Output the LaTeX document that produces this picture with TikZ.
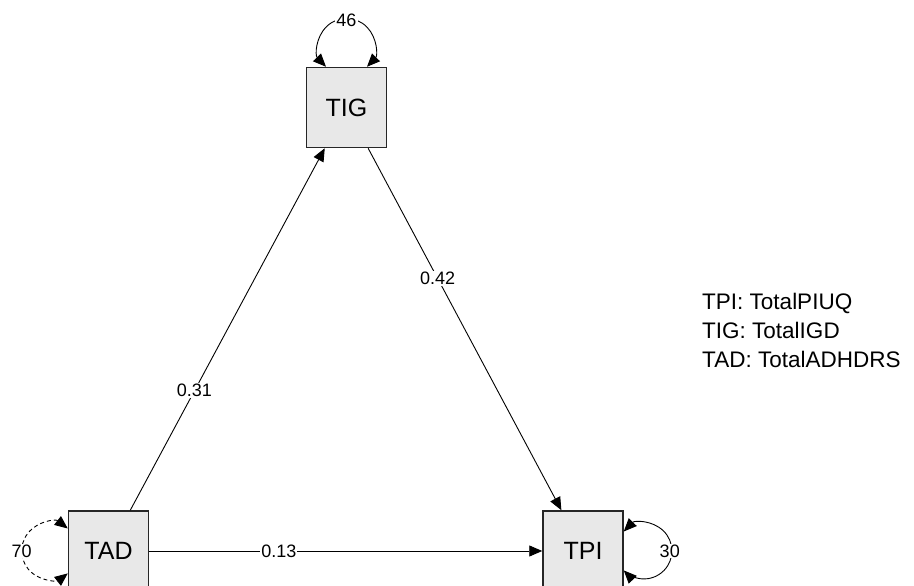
\documentclass[tikz,border=0pt]{standalone}
\usepackage{fontspec}
\setmainfont{Liberation Sans}
\usetikzlibrary{arrows.meta}

\begin{document}
\begin{tikzpicture}[x=1pt, y=1pt,
    obsbox/.style={rectangle, draw=black!85, line width=1.5pt, fill=gray!18, minimum size=80pt, inner sep=0pt, font=\fontsize{25}{30}\selectfont},
    regedge/.style={line width=0.9pt, -{Triangle[length=13pt,width=11pt]}},
    covloop/.style={line width=0.9pt, {Triangle[length=13pt,width=11pt]}-{Triangle[length=13pt,width=11pt]}},
    wlabel/.style={fill=white, inner sep=1pt, font=\fontsize{18}{20}\selectfont}]
    \useasboundingbox (0,0) rectangle (914,586);

    % observed variables
    \node[obsbox] (tig) at (346.5, 478.5) {TIG};
    \node[obsbox] (tad) at (108.5, 35) {TAD};
    \node[obsbox] (tpi) at (583, 35) {TPI};

    % paths
    \draw[regedge] (tad) -- node[wlabel, pos=0.33] (l31) {0.31} (tig);
    \draw[regedge] (tig) -- node[wlabel, pos=0.36] (l42) {0.42} (tpi);
    \draw[regedge] (tad) -- node[wlabel, pos=0.33] (l13) {0.13} (tpi);

    % variances
    \draw[covloop] ([xshift=-20.5pt]tig.north) arc[start angle=224, end angle=-44, radius=28.5pt];
    \node[wlabel] (v46) at ([yshift=46pt]tig.north) {46};
    \draw[covloop, dash pattern=on 4pt off 3pt] ([yshift=22.5pt]tad.west) arc[start angle=52, end angle=308, radius=28.5pt];
    \node[wlabel] (v70) at ([xshift=-46pt]tad.west) {70};
    \draw[covloop] ([yshift=19.5pt]tpi.east) arc[start angle=136, end angle=-136, radius=28pt];
    \node[wlabel] (v30) at ([xshift=46pt]tpi.east) {30};

    % legend
    \node[anchor=west, align=left, inner sep=0pt, font=\fontsize{22.5}{29}\selectfont] (legend) at (702, 256)
        {TPI: TotalPIUQ\\TIG: TotalIGD\\TAD: TotalADHDRS};
\end{tikzpicture}
\end{document}
